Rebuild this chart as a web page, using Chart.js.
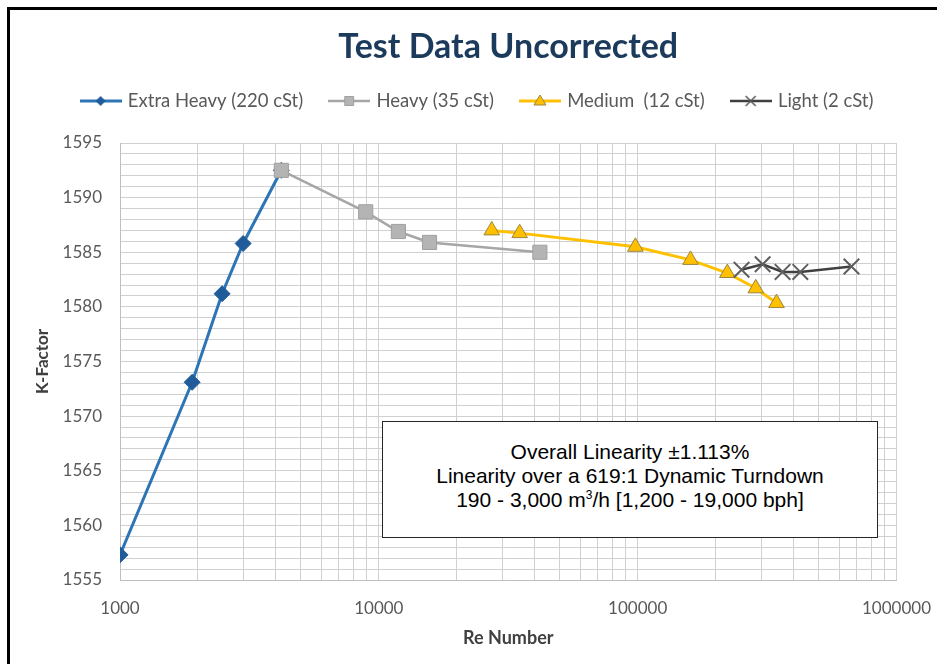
<!DOCTYPE html>
<html>
<head>
<meta charset="utf-8">
<script src="https://cdn.jsdelivr.net/npm/chart.js@4/dist/chart.umd.min.js"></script>
<style>
  html, body { margin: 0; padding: 0; background: #fff; overflow: hidden; }
  #wrap { position: relative; width: 937px; height: 664px; }
  #frame {
    position: absolute; left: 7px; top: 7px; width: 960px; height: 700px;
    border-left: 3px solid #000; border-top: 3px solid #000; pointer-events: none;
  }
  #note {
    position: absolute; left: 382px; top: 421px; width: 494px; height: 115px;
    border: 1px solid #262626; background: #fff; box-sizing: content-box;
    font-family: "Liberation Sans", Arial, sans-serif; font-size: 21px; line-height: 24px;
    color: #000; text-align: center;
  }
  #note div:first-child { margin-top: 18px; }
  #note sup { font-size: 12px; vertical-align: 8px; line-height: 0; }
</style>
</head>
<body>
<div id="wrap">
  <canvas id="c" width="937" height="664"></canvas>
  <div id="note">
    <div>Overall Linearity ±1.113%</div>
    <div>Linearity over a 619:1 Dynamic Turndown</div>
    <div>190 - 3,000 m<sup>3</sup>/h [1,200 - 19,000 bph]</div>
  </div>
  <div id="frame"></div>
</div>
<script>
// ── Données ───────────────────────────────────────────────────
const SERIES_NAMES = ['Extra Heavy (220 cSt)', 'Heavy (35 cSt)', 'Medium  (12 cSt)', 'Light (2 cSt)'];

const XHEAVY_RE = [1000, 1900, 2480, 2990, 4200];
const XHEAVY_K  = [1557.3, 1573.1, 1581.2, 1585.8, 1592.5];

const HEAVY_RE = [4200, 8900, 11900, 15700, 41900];
const HEAVY_K  = [1592.5, 1588.7, 1586.9, 1585.9, 1585.0];

const MEDIUM_RE = [27300, 35000, 98000, 160000, 222000, 286000, 344000];
const MEDIUM_K  = [1587.0, 1586.75, 1585.5, 1584.3, 1583.1, 1581.7, 1580.35];

const LIGHT_RE = [252000, 304000, 363000, 425000, 670000];
const LIGHT_K  = [1583.4, 1583.9, 1583.2, 1583.2, 1583.7];

const X_DECADES = [1000, 10000, 100000, 1000000];
const Y_MIN = 1555, Y_MAX = 1595;

const pts = (xs, ys) => xs.map((x, i) => ({ x, y: ys[i] }));

// ── Icônes de légende (trait + marqueur) ──────────────────────
function legendIcon(color, lineWidth, marker, mFill, mStroke) {
  const c = document.createElement('canvas');
  c.width = 42; c.height = 20;
  const g = c.getContext('2d');
  g.strokeStyle = color; g.lineWidth = lineWidth;
  g.beginPath(); g.moveTo(0, 10); g.lineTo(42, 10); g.stroke();
  g.fillStyle = mFill; g.strokeStyle = mStroke; g.lineWidth = 1;
  g.beginPath();
  if (marker === 'diamond') {
    g.moveTo(21, 5); g.lineTo(26, 10); g.lineTo(21, 15); g.lineTo(16, 10); g.closePath(); g.fill();
  } else if (marker === 'square') {
    g.rect(16.5, 5.5, 9, 9); g.fill(); g.stroke();
  } else if (marker === 'triangle') {
    g.moveTo(21, 4); g.lineTo(27, 14); g.lineTo(15, 14); g.closePath(); g.fill(); g.stroke();
  } else {
    g.lineWidth = 1.5;
    g.moveTo(16, 5); g.lineTo(26, 15); g.moveTo(26, 5); g.lineTo(16, 15); g.stroke();
  }
  return c;
}

const ICONS = [
  legendIcon('#2e75b6', 3, 'diamond', '#1f5c99', '#1f5c99'),
  legendIcon('#a6a6a6', 2.5, 'square', '#b4b4b4', '#a0a0a0'),
  legendIcon('#ffc000', 3, 'triangle', '#ffc000', '#9c8540'),
  legendIcon('#404040', 2.5, 'cross', '#595959', '#595959'),
];

const FONT = 'Lato, "Open Sans", sans-serif';

new Chart(document.getElementById('c'), {
  type: 'line',
  data: {
    datasets: [
      {
        label: SERIES_NAMES[0], data: pts(XHEAVY_RE, XHEAVY_K), order: 4,
        borderColor: '#2e75b6', borderWidth: 3,
        pointStyle: 'rectRot', pointRadius: 8,
        pointBackgroundColor: '#1f5c99', pointBorderColor: '#1f5c99', pointBorderWidth: 1,
      },
      {
        label: SERIES_NAMES[1], data: pts(HEAVY_RE, HEAVY_K), order: 3,
        borderColor: '#a6a6a6', borderWidth: 2.5,
        pointStyle: 'rect', pointRadius: 10,
        pointBackgroundColor: '#b4b4b4', pointBorderColor: '#a0a0a0', pointBorderWidth: 1,
      },
      {
        label: SERIES_NAMES[2], data: pts(MEDIUM_RE, MEDIUM_K), order: 2,
        borderColor: '#ffc000', borderWidth: 3,
        pointStyle: 'triangle', pointRadius: 9,
        pointBackgroundColor: '#ffc000', pointBorderColor: '#9c8540', pointBorderWidth: 1,
      },
      {
        label: SERIES_NAMES[3], data: pts(LIGHT_RE, LIGHT_K), order: 1,
        borderColor: '#404040', borderWidth: 2.5,
        pointStyle: 'crossRot', pointRadius: 11,
        pointBackgroundColor: '#595959', pointBorderColor: '#5f5f5f', pointBorderWidth: 2,
      },
    ],
  },
  options: {
    responsive: false,
    animation: false,
    layout: { padding: { left: 29, right: 10, top: 0, bottom: 0 } },
    elements: { line: { tension: 0 } },
    plugins: {
      tooltip: { enabled: false },
      title: {
        display: true, text: 'Test Data Uncorrected', fullSize: false,
        color: '#1b3a5c', font: { family: FONT, size: 34, weight: 'bold', lineHeight: 1.2 },
        padding: { top: 26.6, bottom: -3.65 },
      },
      legend: {
        display: true, position: 'top', align: 'center',
        labels: {
          usePointStyle: true, pointStyleWidth: 36, padding: 28,
          color: '#595959', font: { family: FONT, size: 18.5 },
          sort: (a, b) => a.datasetIndex - b.datasetIndex,
          generateLabels(chart) {
            const items = Chart.defaults.plugins.legend.labels.generateLabels(chart);
            items.forEach(it => { it.pointStyle = ICONS[it.datasetIndex]; });
            return items;
          },
        },
      },
      // espace vide entre légende et zone de tracé
      subtitle: {
        display: true, text: '', weight: 500,
        font: { size: 10, lineHeight: 1 }, padding: { top: 12.75, bottom: 0 },
      },
    },
    scales: {
      x: {
        type: 'logarithmic', min: 1000, max: 1000000,
        afterFit(scale) { scale.height = 84; },
        afterBuildTicks(scale) {
          const ticks = [];
          X_DECADES.forEach(d => {
            for (let m = 1; m <= 9; m++) {
              const v = d * m;
              if (v <= 1000000) ticks.push({ value: v });
            }
          });
          scale.ticks = ticks;
        },
        ticks: {
          autoSkip: false, maxRotation: 0, padding: 6,
          color: '#595959', font: { family: FONT, size: 17 },
          callback: v => (X_DECADES.includes(v) ? String(v) : ''),
        },
        grid: { color: '#d0d0d0', drawTicks: true, tickLength: 12, tickColor: 'rgba(0,0,0,0)' },
        border: { color: '#bfbfbf' },
        title: {
          display: true, text: 'Re Number', color: '#404040',
          font: { family: FONT, size: 18, weight: 'bold', lineHeight: 1.2 },
          padding: { top: 0, bottom: 15.2 },
        },
      },
      y: {
        type: 'linear', min: Y_MIN, max: Y_MAX,
        afterFit(scale) { scale.width = 91; },
        ticks: {
          stepSize: 1, autoSkip: false, padding: 18,
          color: '#595959', font: { family: FONT, size: 17 },
          callback: v => (v % 5 === 0 ? String(v) : ''),
        },
        grid: { color: '#d0d0d0', drawTicks: false },
        border: { color: '#bfbfbf' },
        title: {
          display: true, text: 'K-Factor', color: '#404040',
          font: { family: FONT, size: 17, weight: 'bold', lineHeight: 1.2 },
          padding: { top: 3.8, bottom: 0 },
        },
      },
    },
  },
});
</script>
</body>
</html>
